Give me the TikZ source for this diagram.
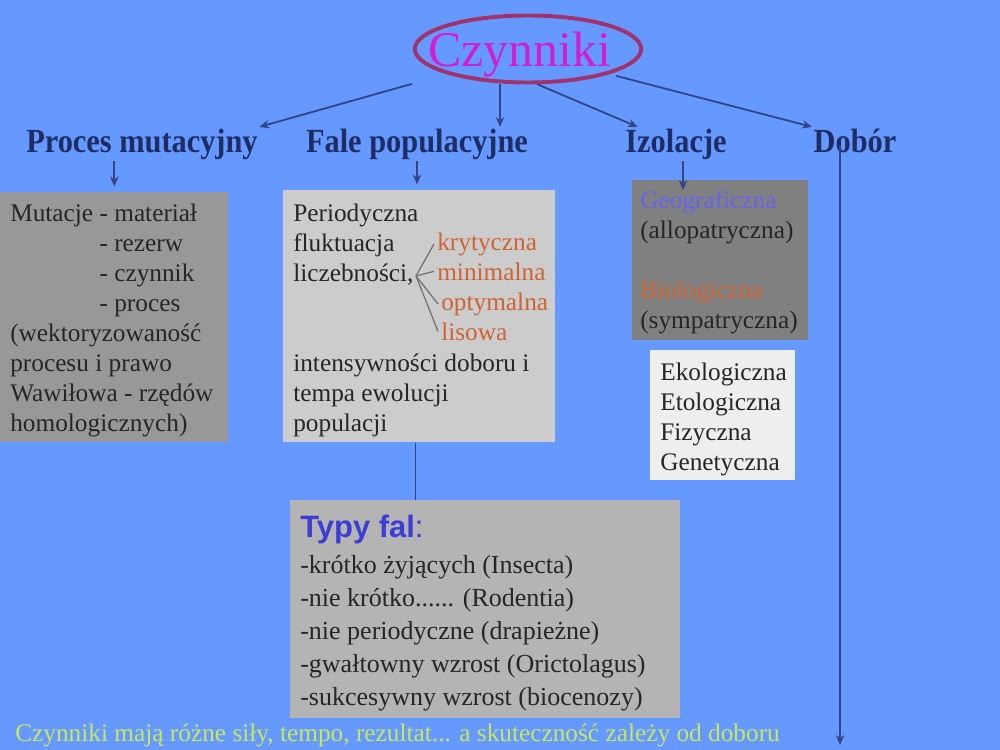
\documentclass[tikz,border=0pt]{standalone}
\usepackage{fontspec}
\setmainfont{Liberation Serif}
\setsansfont{Liberation Sans}
\newfontfamily\glowny[FakeStretch=0.9,UprightFont=* Bold]{Liberation Serif}
\usetikzlibrary{arrows.meta,calc,shapes.geometric}
\definecolor{TloSlajdu}{RGB}{102,153,255}
\definecolor{Granat}{RGB}{30,45,100}
\definecolor{Strzalka}{RGB}{50,70,135}
\definecolor{Obwodka}{RGB}{160,50,110}
\definecolor{RozTytul}{RGB}{210,30,210}
\definecolor{SzaryMut}{RGB}{152,152,152}
\definecolor{SzaryJasny}{RGB}{204,204,204}
\definecolor{SzaryCiemny}{RGB}{128,128,128}
\definecolor{SzaryTypy}{RGB}{180,180,180}
\definecolor{BialySzary}{RGB}{238,238,238}
\definecolor{Pomarancz}{RGB}{205,100,50}
\definecolor{Fiolet}{RGB}{100,100,240}
\definecolor{Chaber}{RGB}{60,60,215}
\definecolor{ZoltaZiel}{RGB}{200,232,90}

\begin{document}
\begin{tikzpicture}[x=0.025cm, y=-0.025cm, >={Stealth[length=7pt,width=6pt]},
    naglowek/.style={font=\glowny\fontsize{24}{28}\selectfont, text=Granat, inner sep=1pt, anchor=base},
    tekst/.style={font=\fontsize{18}{21.34}\selectfont, text=black!85, align=left, inner sep=0pt},
    ramka/.style={anchor=north west, inner sep=0pt},
    strz/.style={->, line width=1.3pt, draw=Strzalka},
    lacznik/.style={line width=1pt, draw=Strzalka},
    wachlarz/.style={line width=0.9pt, draw=black!55}]

    % tlo slajdu
    \fill[TloSlajdu] (0,0) rectangle (1000,750);
    \useasboundingbox (0,0) rectangle (1000,750);

    % tytul
    \node[ellipse, draw=Obwodka, line width=2.8pt, inner sep=0pt,
        minimum height=1.675cm, text depth=0pt, text=RozTytul,
        font=\fontsize{35.5}{40}\selectfont] (czyn) at (528,49)
        {\makebox[4cm]{Czynniki\hspace{0.4cm}}};

    % naglowki
    \node[naglowek] (proc) at (142,152) {Proces mutacyjny};
    \node[naglowek] (fale) at (417,152) {Fale populacyjne};
    \node[naglowek] (izo)  at (676,152) {Izolacje};
    \node[naglowek] (dob)  at (855,152) {Dobór};

    % ramki
    \node[ramka, fill=SzaryMut, minimum width=5.7cm, minimum height=6.25cm] (mutbox) at (0,192) {};
    \node[ramka, fill=SzaryJasny, minimum width=6.8cm, minimum height=6.3cm] (falebox) at (283,190) {};
    \node[ramka, fill=SzaryCiemny, minimum width=4.4cm, minimum height=4cm] (izobox) at (632,180) {};
    \node[ramka, fill=BialySzary, minimum width=3.625cm, minimum height=3.25cm] (ekobox) at (650,350) {};
    \node[ramka, fill=SzaryTypy, minimum width=9.75cm, minimum height=5.45cm] (typybox) at (290,500) {};

    % teksty w ramkach
    \node[tekst, anchor=north west] (mut) at (10,204) {Mutacje - materiał\\
        \phantom{Mutacje }- rezerw\\
        \phantom{Mutacje }- czynnik\\
        \phantom{Mutacje }- proces\\
        (wektoryzowaność\\
        procesu i prawo\\
        Wawiłowa - rzędów\\
        homologicznych)};

    \node[tekst, anchor=north west] (per) at (293,204) {Periodyczna\\
        fluktuacja\\
        liczebności,\\[42.7pt]
        intensywności doboru i\\
        tempa ewolucji\\
        populacji};

    \node[tekst, anchor=base west, text=Pomarancz] (kryt) at (437,250) {krytyczna};
    \node[tekst, anchor=base west, text=Pomarancz] (mini) at (437,280) {minimalna};
    \node[tekst, anchor=base west, text=Pomarancz] (opt)  at (441,310) {optymalna};
    \node[tekst, anchor=base west, text=Pomarancz] (lis)  at (441,340) {lisowa};

    \coordinate (fan) at (416,276);
    \foreach \cel in {kryt,mini,opt,lis}
        \draw[wachlarz] (fan) -- ($(\cel.west)+(-3,0)$);

    \node[tekst, anchor=north west] (geo) at (640,190) {\textcolor{Fiolet}{Geograficzna}\\
        (allopatryczna)\\[21.34pt]
        \textcolor{Pomarancz}{Biologiczna}\\
        (sympatryczna)};

    \node[tekst, anchor=north west] (eko) at (660,363) {Ekologiczna\\
        Etologiczna\\
        Fizyczna\\
        Genetyczna};

    \node[tekst, anchor=base west, text=Chaber, font=\sffamily\fontsize{22}{26}\selectfont]
        (typy) at (300,537) {\textbf{Typy fal}:};
    \node[tekst, anchor=north west, font=\fontsize{18.5}{23.5}\selectfont] (lista) at (300,555)
        {-krótko żyjących (Insecta)\\
        -nie krótko...... (Rodentia)\\
        -nie periodyczne (drapieżne)\\
        -gwałtowny wzrost (Orictolagus)\\
        -sukcesywny wzrost (biocenozy)};

    \node[tekst, anchor=base west, text=ZoltaZiel, font=\fontsize{18}{21}\selectfont] (stopka)
        at (15,741) {Czynniki mają różne siły, tempo, rezultat... a skuteczność zależy od doboru};

    % strzalki od tytulu
    \draw[strz, shorten <=0.9cm] (czyn.south west) -- (proc.north east);
    \draw[strz] ($(czyn.south)+(-28,0)$) coordinate (c2) -- (c2 |- fale.north);
    \draw[strz] (czyn.-75) -- ($(izo.north west)+(14,0)$);
    \draw[strz, shorten <=5pt] (czyn.south east) -- (dob.north west);

    % strzalki w dol
    \draw[strz, shorten >=4pt] (proc.south -| mutbox.north) -- (mutbox.north);
    \draw[strz, shorten >=4pt] (fale.south) -- (fale.south |- falebox.north);
    \draw[strz] ($(izo.south)+(7,0)$) coordinate (i1) -- ($(i1 |- izobox.north)+(0,10)$);
    \coordinate (dobkoniec) at (840,745);
    \draw[strz] ($(dob.south)+(-15,-8)$) -- (dobkoniec);
    \draw[lacznik] (falebox.south) ++(-4,0) coordinate (f1) -- (f1 |- typybox.north);
\end{tikzpicture}
\end{document}
